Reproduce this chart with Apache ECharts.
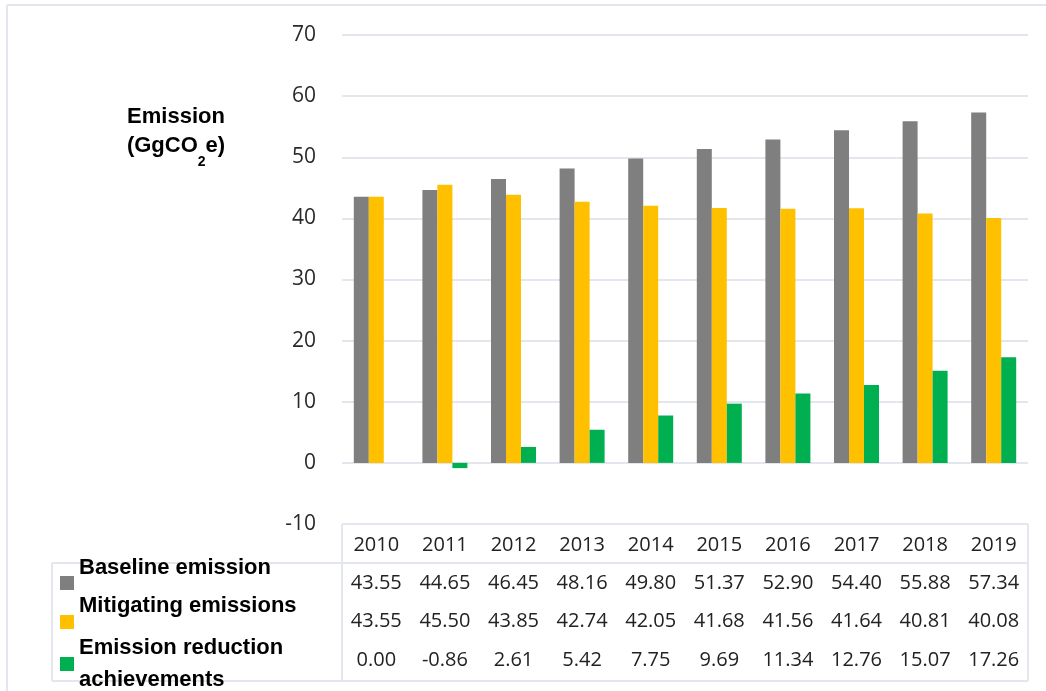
<!DOCTYPE html>
<html>
<head>
<meta charset="utf-8">
<script src="https://cdn.jsdelivr.net/npm/echarts@6/dist/echarts.min.js"></script>
<style>
html,body{margin:0;padding:0;background:#fff;}
#chart{width:1046px;height:691px;}
</style>
</head>
<body>
<div id="chart"></div>
<script>
var years = ['2010','2011','2012','2013','2014','2015','2016','2017','2018','2019'];
var seriesNames = ['Baseline emission','Mitigating emissions','Emission reduction achievements'];
var baseline = [43.55, 44.65, 46.45, 48.16, 49.80, 51.37, 52.90, 54.40, 55.88, 57.34];
var mitigating = [43.55, 45.50, 43.85, 42.74, 42.05, 41.68, 41.56, 41.64, 40.81, 40.08];
var reduction = [0.00, -0.86, 2.61, 5.42, 7.75, 9.69, 11.34, 12.76, 15.07, 17.26];
var yTicks = {min: -10, max: 70, interval: 10};

var colors = ['#7f7f7f', '#ffc000', '#00b050'];
var gridColor = '#e3e6ec';
var numFont = 'Open Sans';
var boldFont = 'Liberation Sans';

var G = {left: 342, right: 18, top: 35, bottom: 167};
var W = 1046, H = 691;
var gx0 = G.left, gx1 = W - G.right, gy1 = H - G.bottom;
var tableLeft = 52, headerBottom = 563, tableBottom = 681;

var chart = echarts.init(document.getElementById('chart'), null, {renderer: 'canvas'});

function fmt(arr){ return arr.map(function(v){ return v.toFixed(2); }); }

function rowAxis(data, margin){
  return {
    type: 'category', gridIndex: 0, position: 'bottom', data: data,
    axisLine: {show: false}, axisTick: {show: false}, splitLine: {show: false},
    axisLabel: {margin: margin, verticalAlign: 'middle', fontSize: 20, fontFamily: numFont, color: '#222', interval: 0}
  };
}

function line(x1, y1, x2, y2){
  return {type: 'line', shape: {x1: x1, y1: y1, x2: x2, y2: y2}, style: {stroke: gridColor, lineWidth: 2}, silent: true};
}

function legendFor(i, top, lh, twoLine){
  return {
    data: [seriesNames[i]], left: 60, top: top, padding: 0, orient: 'vertical',
    itemWidth: 14, itemHeight: 14, icon: 'rect', selectedMode: false,
    formatter: function(name){
      return twoLine ? 'Emission reduction\nachievements' : name + '\n ';
    },
    textStyle: {fontFamily: boldFont, fontWeight: 'bold', fontSize: 22, color: '#000', lineHeight: lh}
  };
}

var option = {
  animation: false,
  backgroundColor: '#fff',
  title: {
    text: '{a|Emission}\n{a|(GgCO}{s|2}{a|e)}',
    left: 171, top: 97, textAlign: 'center',
    textStyle: {
      rich: {
        a: {fontFamily: boldFont, fontWeight: 'bold', fontSize: 22, lineHeight: 29, color: '#000', align: 'center'},
        s: {fontFamily: boldFont, fontWeight: 'bold', fontSize: 14, color: '#000', verticalAlign: 'bottom', lineHeight: 14, padding: [0,0,-9,0]}
      }
    }
  },
  legend: [
    legendFor(0, 583 - 30, 30, false),
    legendFor(1, 622 - 32, 32, false),
    legendFor(2, 664 - 32, 32, true)
  ],
  grid: {left: G.left, right: G.right, top: G.top, bottom: G.bottom, containLabel: false},
  xAxis: [
    {
      type: 'category', data: years, position: 'bottom',
      axisLine: {show: false}, axisTick: {show: false}, splitLine: {show: false},
      axisLabel: {margin: 21, verticalAlign: 'middle', fontSize: 20, fontFamily: numFont, color: '#222', interval: 0}
    },
    rowAxis(fmt(baseline), 59),
    rowAxis(fmt(mitigating), 97),
    rowAxis(fmt(reduction), 136)
  ],
  yAxis: {
    type: 'value', min: yTicks.min, max: yTicks.max, interval: yTicks.interval,
    axisLine: {show: false}, axisTick: {show: false},
    splitLine: {show: true, lineStyle: {color: gridColor, width: 2}},
    axisLabel: {margin: 26, fontSize: 21, fontFamily: numFont, color: '#2a2a2a'}
  },
  series: [
    {name: seriesNames[0], type: 'bar', data: baseline, barWidth: 15, barGap: '0%', itemStyle: {color: colors[0]}},
    {name: seriesNames[1], type: 'bar', data: mitigating, barWidth: 15, barGap: '0%', itemStyle: {color: colors[1]}},
    {name: seriesNames[2], type: 'bar', data: reduction, barWidth: 15, barGap: '0%', itemStyle: {color: colors[2]}}
  ],
  graphic: [
    line(7, 5, W, 5),
    line(7, 5, 7, H),
    line(gx0, gy1, gx0, tableBottom),
    line(tableLeft, headerBottom, gx1, headerBottom),
    line(tableLeft, headerBottom, tableLeft, tableBottom),
    line(tableLeft, tableBottom, gx1, tableBottom),
    line(gx1, gy1, gx1, tableBottom)
  ]
};
chart.setOption(option);
</script>
</body>
</html>
